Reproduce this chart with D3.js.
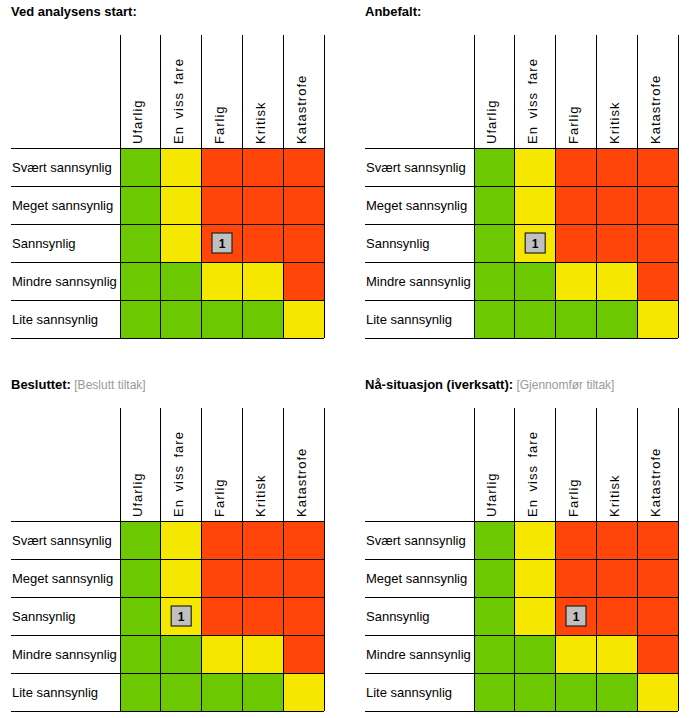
<!DOCTYPE html>
<html><head><meta charset="utf-8">
<script src="https://cdn.jsdelivr.net/npm/d3@7"></script>
<style>body{margin:0;background:#fff}</style>
</head><body>
<script>
const consequences = ["Ufarlig", "En viss fare", "Farlig", "Kritisk", "Katastrofe"];
const likelihoods = ["Svært sannsynlig", "Meget sannsynlig", "Sannsynlig", "Mindre sannsynlig", "Lite sannsynlig"];
// risk level per row (likelihood) and column (consequence): 0 green, 1 yellow, 2 red
const riskLevels = [
  [0, 1, 2, 2, 2],
  [0, 1, 2, 2, 2],
  [0, 1, 2, 2, 2],
  [0, 0, 1, 1, 2],
  [0, 0, 0, 0, 1]
];
const panelTitles = ["Ved analysens start:", "Anbefalt:", "Besluttet:", "Nå-situasjon (iverksatt):"];
const panelSubtitles = ["", "", "[Beslutt tiltak]", "[Gjennomfør tiltak]"];
const markerLikelihood = ["Sannsynlig", "Sannsynlig", "Sannsynlig", "Sannsynlig"];
const markerConsequence = ["Farlig", "En viss fare", "En viss fare", "Farlig"];
const markerLabel = ["1", "1", "1", "1"];
const levelColors = ["#6cc800", "#f6e700", "#ff4508"];

const W = 692, H = 718;
const svg = d3.select("body").append("svg").attr("width", W).attr("height", H)
  .style("font-family", "Arial, 'Liberation Sans', sans-serif");

const offX = [0, 354, 0, 354];
const offY = [0, 0, 373, 373];

panelTitles.forEach((title, i) => {
  const g = svg.append("g").attr("transform", `translate(${offX[i]},${offY[i]})`);
  const x = d3.scaleBand().domain(consequences).range([120, 324]);
  const y = d3.scaleBand().domain(likelihoods).range([148, 338]);
  const left = 11, headTop = 35;

  const t = g.append("text").attr("x", left).attr("y", 16)
    .style("font-size", "13px");
  t.append("tspan").style("font-weight", "bold").attr("fill", "#000").text(title);
  if (panelSubtitles[i]) t.append("tspan").attr("fill", "#999").style("font-size", "12px").text(" " + panelSubtitles[i]);

  // cells
  likelihoods.forEach((r, ri) => {
    consequences.forEach((c, ci) => {
      g.append("rect").attr("x", x(c)).attr("y", y(r))
        .attr("width", x.bandwidth()).attr("height", y.bandwidth())
        .attr("fill", levelColors[riskLevels[ri][ci]]);
    });
    g.append("text").attr("x", left + 1).attr("y", y(r) + y.bandwidth() / 2 + 5)
      .style("font-size", "13px").attr("fill", "#000").text(r);
  });

  // column headers
  consequences.forEach(c => {
    g.append("text")
      .attr("transform", `translate(${x(c) + x.bandwidth() / 2 + 2},144) rotate(-90)`)
      .style("font-size", "13px").style("letter-spacing", "1px").style("word-spacing", "3px")
      .attr("fill", "#000").text(c);
  });

  // grid lines
  const lines = g.append("g").attr("stroke", "#000").attr("stroke-width", 1).attr("shape-rendering", "crispEdges");
  const bounds = consequences.map(c => x(c)).concat([x.range()[1]]);
  bounds.forEach(bx => {
    lines.append("line").attr("x1", bx).attr("x2", bx).attr("y1", headTop).attr("y2", y.range()[1]);
  });
  const hb = likelihoods.map(r => y(r)).concat([y.range()[1]]);
  hb.forEach(by => {
    lines.append("line").attr("x1", left).attr("x2", x.range()[1]).attr("y1", by).attr("y2", by);
  });

  // marker
  const mx = x(markerConsequence[i]) + x.bandwidth() / 2;
  const my = y(markerLikelihood[i]) + y.bandwidth() / 2;
  g.append("rect").attr("x", mx - 10).attr("y", my - 10).attr("width", 20).attr("height", 20)
    .attr("fill", "#c0c0c0").attr("stroke", "#222").attr("stroke-width", 1.2);
  g.append("text").attr("x", mx).attr("y", my + 4.5).attr("text-anchor", "middle")
    .style("font-size", "12px").style("font-weight", "bold").attr("fill", "#000").text(markerLabel[i]);
});
</script>
</body></html>
